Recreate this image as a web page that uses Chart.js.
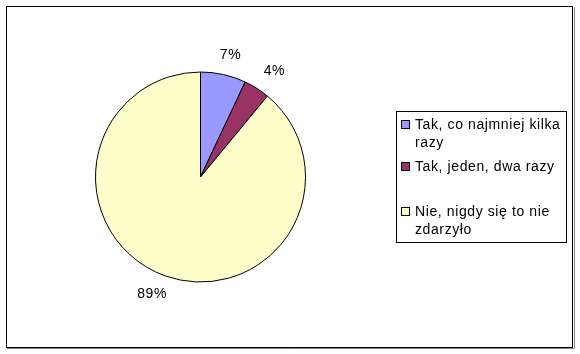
<!DOCTYPE html>
<html>
<head>
<meta charset="utf-8">
<script src="https://cdn.jsdelivr.net/npm/chart.js@4/dist/chart.umd.min.js"></script>
<style>
  html, body { margin: 0; padding: 0; background: #fff; }
  #wrap { position: relative; width: 580px; height: 354px; }
</style>
</head>
<body>
<div id="wrap"><canvas id="pie" width="580" height="354"></canvas></div>
<script>
  // data
  var categories = ["Tak, co najmniej kilka razy", "Tak, jeden, dwa razy", "Nie, nigdy się to nie zdarzyło"];
  var values = [7, 4, 89];
  var valueLabels = ["7%", "4%", "89%"];
  var colors = ["#9999ff", "#993366", "#ffffcc"];

  var FONT = "14px 'Liberation Sans', Arial, sans-serif";
  var SPACING = "0.6px";

  // outer frame
  var framePlugin = {
    id: "frame",
    beforeDraw: function (chart) {
      var ctx = chart.ctx;
      ctx.save();
      ctx.fillStyle = "#fff";
      ctx.fillRect(0, 0, chart.width, chart.height);
      ctx.strokeStyle = "#000";
      ctx.lineWidth = 1;
      ctx.strokeRect(6.5, 6.5, 566, 341);
      ctx.strokeStyle = "#888";
      ctx.beginPath();
      ctx.moveTo(574.5, 7);
      ctx.lineTo(574.5, 348.5);
      ctx.lineTo(7, 348.5);
      ctx.stroke();
      ctx.restore();
    }
  };

  // percent labels outside each slice
  var labelPlugin = {
    id: "pctLabels",
    afterDatasetsDraw: function (chart) {
      var ctx = chart.ctx;
      var arcs = chart.getDatasetMeta(0).data;
      ctx.save();
      ctx.font = FONT;
      ctx.letterSpacing = SPACING;
      ctx.fillStyle = "#000";
      ctx.textAlign = "center";
      ctx.textBaseline = "middle";
      arcs.forEach(function (arc, i) {
        var p = arc.getProps(["x", "y", "startAngle", "endAngle", "outerRadius"], true);
        var mid = (p.startAngle + p.endAngle) / 2;
        var r = p.outerRadius + 20;
        var w = ctx.measureText(valueLabels[i]).width;
        var x = p.x + Math.cos(mid) * r + Math.cos(mid) * w * 0.6;
        var y = p.y + Math.sin(mid) * r;
        ctx.fillText(valueLabels[i], x, y);
      });
      ctx.restore();
    }
  };

  // boxed legend on the right
  var legendPlugin = {
    id: "boxLegend",
    afterDraw: function (chart) {
      var ctx = chart.ctx;
      var box = { x: 396.5, y: 111.5, w: 170, h: 131 };
      ctx.save();
      ctx.strokeStyle = "#000";
      ctx.lineWidth = 1;
      ctx.strokeRect(box.x, box.y, box.w, box.h);
      ctx.font = FONT;
      ctx.letterSpacing = SPACING;
      ctx.textBaseline = "middle";
      ctx.textAlign = "left";
      var rows = [125, 167, 212];
      categories.forEach(function (name, i) {
        // wrap the name into lines
        var words = name.split(" ");
        var lines = [];
        var cur = "";
        words.forEach(function (w) {
          var t = cur ? cur + " " + w : w;
          if (ctx.measureText(t).width > 152 && cur) {
            lines.push(cur);
            cur = w;
          } else {
            cur = t;
          }
        });
        lines.push(cur);
        var y = rows[i];
        ctx.fillStyle = colors[i];
        ctx.fillRect(401.5, y - 4.5, 8, 8);
        ctx.strokeStyle = "#000";
        ctx.strokeRect(401.5, y - 4.5, 8, 8);
        ctx.fillStyle = "#000";
        lines.forEach(function (ln, j) {
          ctx.fillText(ln, 415, y + j * 18);
        });
      });
      ctx.restore();
    }
  };

  new Chart(document.getElementById("pie"), {
    type: "pie",
    data: {
      labels: categories,
      datasets: [{
        data: values,
        backgroundColor: colors,
        borderColor: "#000",
        borderWidth: 1
      }]
    },
    options: {
      responsive: false,
      animation: false,
      layout: { padding: { left: 95, right: 274, top: 71, bottom: 71 } },
      plugins: {
        legend: { display: false },
        tooltip: { enabled: false }
      }
    },
    plugins: [framePlugin, labelPlugin, legendPlugin]
  });
</script>
</body>
</html>
